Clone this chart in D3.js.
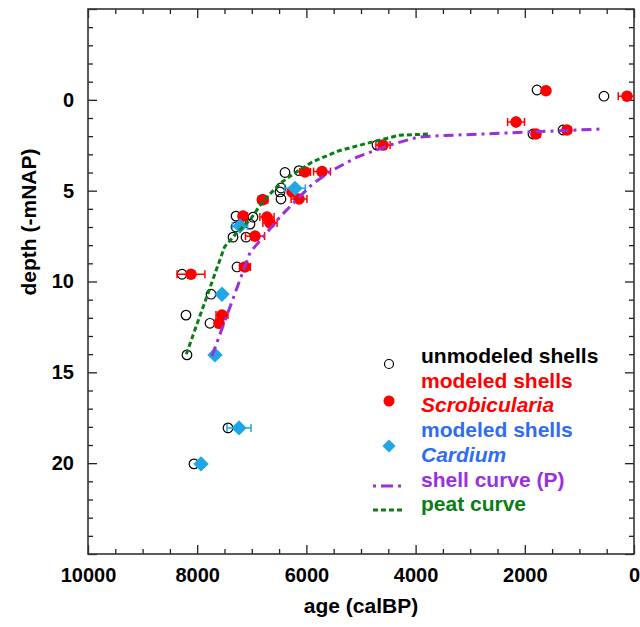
<!DOCTYPE html>
<html>
<head>
<meta charset="utf-8">
<script src="https://cdn.jsdelivr.net/npm/d3@7"></script>
<style>
  body { margin: 0; background: #fff; }
  text { font-family: "Liberation Sans", Arial, sans-serif; font-weight: bold; }
</style>
</head>
<body>
<div id="wrapper"></div>
<script>
// data (age in calBP, depth in -mNAP)
const unmodeledAge = [550, 1776, 2160, 1850, 1300, 4707, 6392, 6135, 6465, 6484, 6465, 6813,
  7289, 6978, 7033, 7289, 7344, 7106, 7271, 8278, 7747, 8205, 7766, 8187, 7436, 8059]
const unmodeledDepth = [-0.2, -0.54, 1.22, 1.88, 1.66, 2.49, 4.0, 3.9, 4.85, 5.07, 5.46, 5.5,
  6.4, 6.46, 6.84, 7.0, 7.56, 7.56, 9.2, 9.6, 10.7, 11.85, 12.3, 14.04, 18.06, 20.04]

const scrobAge = [128, 1612, 2160, 1795, 1227, 4597, 6025, 5714, 6264, 6135, 6795, 7161,
  6722, 6667, 6941, 7125, 8114, 7546, 7600]
const scrobDepth = [-0.2, -0.5, 1.22, 1.88, 1.66, 2.49, 3.97, 3.95, 5.07, 5.46, 5.5, 6.4,
  6.45, 6.78, 7.5, 9.2, 9.6, 11.85, 12.3]
const scrobErr = [160, 60, 155, 75, 70, 130, 100, 155, 60, 145, 90, 80,
  130, 130, 175, 100, 255, 110, 60]

const cardAge = [6209, 7216, 7546, 7674, 7234, 7930]
const cardDepth = [4.87, 6.95, 10.7, 14.04, 18.06, 20.04]
const cardErr = [190, 140, 60, 50, 220, 60]

const shellCurveAge = [7729, 7216, 7033, 6722, 6484, 6245, 5879, 5513, 5073, 4469, 3956, 3736, 623]
const shellCurveDepth = [14.1, 9.9, 8.4, 7.3, 6.45, 5.7, 4.6, 3.86, 3.15, 2.49, 2.05, 2.0, 1.61]

const peatCurveAge = [8200, 7500, 7270, 7030, 6800, 6480, 6250, 5880, 5400, 4900, 4300, 3750]
const peatCurveDepth = [14.0, 8.1, 7.3, 6.6, 5.6, 4.6, 4.1, 3.4, 2.8, 2.4, 1.95, 1.88]

const xTicks = [10000, 8000, 6000, 4000, 2000, 0]
const yTicks = [0, 5, 10, 15, 20]

const legendLabels = ["unmodeled shells", "modeled shells", "Scrobicularia", "modeled shells",
  "Cardium", "shell curve (P)", "peat curve"]

// dimensions
let dimensions = {
  width: 640,
  height: 627,
  margin: { top: 9, right: 6, bottom: 73, left: 88 },
}
dimensions.boundedWidth = dimensions.width - dimensions.margin.left - dimensions.margin.right
dimensions.boundedHeight = dimensions.height - dimensions.margin.top - dimensions.margin.bottom

const colors = {
  red: "#ff0000",
  cyan: "#1ea6e6",
  blueText: "#2f6cf2",
  purple: "#9a2fdc",
  green: "#0a7d16",
}

const wrapper = d3.select("#wrapper")
  .append("svg")
  .attr("width", dimensions.width)
  .attr("height", dimensions.height)

const bounds = wrapper.append("g")
  .attr("transform", `translate(${dimensions.margin.left},${dimensions.margin.top})`)

// scales
const xScale = d3.scaleLinear()
  .domain([10000, 0])
  .range([0, dimensions.boundedWidth])

const yScale = d3.scaleLinear()
  .domain([-5, 25])
  .range([0, dimensions.boundedHeight])

// axes: ticks pointing inward on all four sides
const majorX = d3.range(0, 10001, 2000)
const minorX = d3.range(0, 10001, 500).filter(d => d % 2000 !== 0)
const majorY = d3.range(-5, 26, 5)
const minorY = d3.range(-5, 26, 1).filter(d => d % 5 !== 0)

function addAxis(gen, transform) {
  const g = bounds.append("g").attr("transform", transform).call(gen)
  g.select(".domain").remove()
  g.selectAll(".tick line").attr("stroke", "#222").attr("stroke-width", 1.3)
  return g
}

const xBottom = addAxis(d3.axisBottom(xScale).tickValues(majorX).tickSize(-9).tickPadding(14)
  .tickFormat(d => xTicks.includes(d) ? d : ""), `translate(0,${dimensions.boundedHeight})`)
addAxis(d3.axisBottom(xScale).tickValues(minorX).tickSize(-5).tickFormat(""),
  `translate(0,${dimensions.boundedHeight})`)
addAxis(d3.axisTop(xScale).tickValues(majorX).tickSize(-9).tickFormat(""), "translate(0,0)")
addAxis(d3.axisTop(xScale).tickValues(minorX).tickSize(-5).tickFormat(""), "translate(0,0)")

const yLeft = addAxis(d3.axisLeft(yScale).tickValues(majorY).tickSize(-9).tickPadding(14)
  .tickFormat(d => yTicks.includes(d) ? d : ""), "translate(0,0)")
addAxis(d3.axisLeft(yScale).tickValues(minorY).tickSize(-5).tickFormat(""), "translate(0,0)")
addAxis(d3.axisRight(yScale).tickValues(majorY).tickSize(-9).tickFormat(""),
  `translate(${dimensions.boundedWidth},0)`)
addAxis(d3.axisRight(yScale).tickValues(minorY).tickSize(-5).tickFormat(""),
  `translate(${dimensions.boundedWidth},0)`)

xBottom.selectAll("text").attr("font-size", 20).attr("fill", "#000")
  .style("font-family", "'Liberation Sans', Arial, sans-serif").style("font-weight", "bold")
yLeft.selectAll("text").attr("font-size", 20).attr("fill", "#000")
  .style("font-family", "'Liberation Sans', Arial, sans-serif").style("font-weight", "bold")

// frame
bounds.append("rect")
  .attr("width", dimensions.boundedWidth)
  .attr("height", dimensions.boundedHeight)
  .attr("fill", "none")
  .attr("stroke", "#333")
  .attr("stroke-width", 1.6)

// error bars
function errorBars(ages, depths, errs, color) {
  const g = bounds.append("g").attr("stroke", color).attr("stroke-width", 1.5)
  ages.forEach((a, i) => {
    const y = yScale(depths[i])
    const x0 = xScale(a + errs[i])
    const x1 = Math.min(xScale(a - errs[i]), dimensions.boundedWidth)
    g.append("line").attr("x1", x0).attr("x2", x1).attr("y1", y).attr("y2", y)
    g.append("line").attr("x1", x0).attr("x2", x0).attr("y1", y - 4).attr("y2", y + 4)
    if (xScale(a - errs[i]) <= dimensions.boundedWidth) {
      g.append("line").attr("x1", x1).attr("x2", x1).attr("y1", y - 4).attr("y2", y + 4)
    }
  })
}

// unmodeled shells
bounds.append("g").selectAll("circle")
  .data(unmodeledAge)
  .join("circle")
  .attr("cx", d => xScale(d))
  .attr("cy", (d, i) => yScale(unmodeledDepth[i]))
  .attr("r", 4.8)
  .attr("fill", "none")
  .attr("stroke", "#000")
  .attr("stroke-width", 1.2)

// Scrobicularia
errorBars(scrobAge, scrobDepth, scrobErr, colors.red)
bounds.append("g").selectAll("circle")
  .data(scrobAge)
  .join("circle")
  .attr("cx", d => xScale(d))
  .attr("cy", (d, i) => yScale(scrobDepth[i]))
  .attr("r", 5.8)
  .attr("fill", colors.red)

// Cardium
errorBars(cardAge, cardDepth, cardErr, colors.cyan)
const diamond = d3.symbol().type(d3.symbolDiamond2).size(150)
bounds.append("g").selectAll("path")
  .data(cardAge)
  .join("path")
  .attr("d", diamond)
  .attr("transform", (d, i) => `translate(${xScale(d)},${yScale(cardDepth[i])})`)
  .attr("fill", colors.cyan)

// curves
const lineGen = (ages, depths) => d3.line()
  .x(d => xScale(ages[d]))
  .y(d => yScale(depths[d]))(d3.range(ages.length))

bounds.append("path")
  .attr("d", lineGen(shellCurveAge, shellCurveDepth))
  .attr("fill", "none")
  .attr("stroke", colors.purple)
  .attr("stroke-width", 3)
  .attr("stroke-dasharray", "10,5,3,5")

bounds.append("path")
  .attr("d", lineGen(peatCurveAge, peatCurveDepth))
  .attr("fill", "none")
  .attr("stroke", colors.green)
  .attr("stroke-width", 3)
  .attr("stroke-dasharray", "5,3")

// axis titles
wrapper.append("text")
  .attr("x", dimensions.margin.left + dimensions.boundedWidth / 2)
  .attr("y", 613)
  .attr("text-anchor", "middle")
  .attr("font-size", 21)
  .text("age (calBP)")

wrapper.append("text")
  .attr("transform", "translate(36,222) rotate(-90)")
  .attr("text-anchor", "middle")
  .attr("font-size", 21)
  .text("depth (-mNAP)")

// legend
const legend = wrapper.append("g")
const legendColors = ["#000", colors.red, colors.red, colors.blueText, colors.blueText, colors.purple, colors.green]
const legendItalic = [false, false, true, false, true, false, false]
legendLabels.forEach((label, i) => {
  legend.append("text")
    .attr("x", 421)
    .attr("y", 363 + i * 24.7)
    .attr("font-size", 21)
    .attr("fill", legendColors[i])
    .style("font-style", legendItalic[i] ? "italic" : "normal")
    .text(label)
})
legend.append("circle").attr("cx", 389).attr("cy", 364).attr("r", 4.5)
  .attr("fill", "none").attr("stroke", "#000").attr("stroke-width", 1.2)
legend.append("circle").attr("cx", 389).attr("cy", 401).attr("r", 5.5).attr("fill", colors.red)
legend.append("path").attr("d", d3.symbol().type(d3.symbolDiamond2).size(110))
  .attr("transform", "translate(389,446)").attr("fill", colors.cyan)
legend.append("line").attr("x1", 373).attr("x2", 404).attr("y1", 486).attr("y2", 486)
  .attr("stroke", colors.purple).attr("stroke-width", 3).attr("stroke-dasharray", "3,5,12,5")
legend.append("line").attr("x1", 373).attr("x2", 404).attr("y1", 510).attr("y2", 510)
  .attr("stroke", colors.green).attr("stroke-width", 3).attr("stroke-dasharray", "5,3")
</script>
</body>
</html>
